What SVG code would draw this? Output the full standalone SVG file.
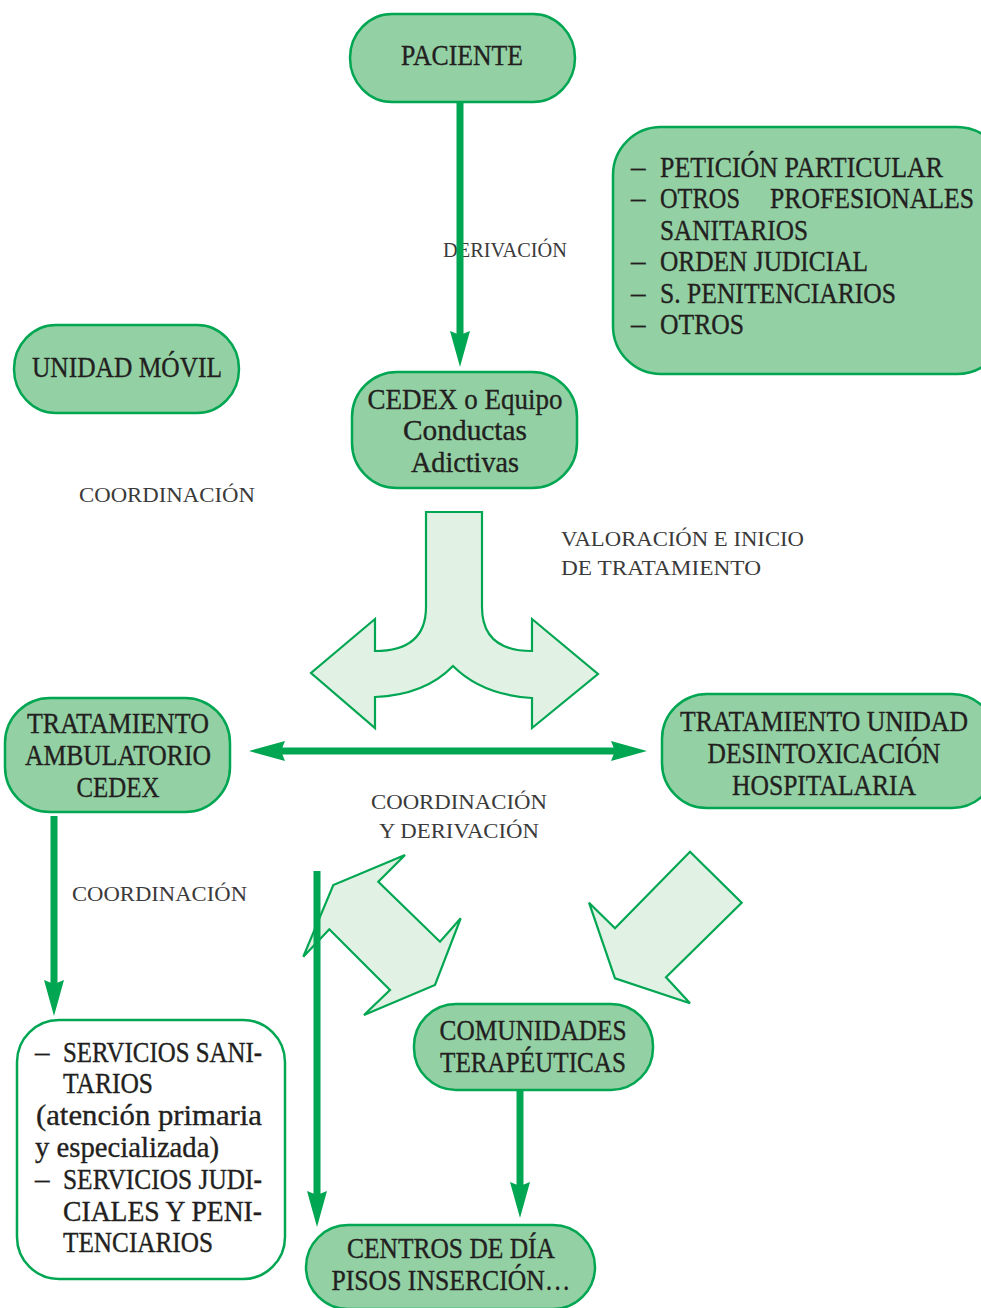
<svg xmlns="http://www.w3.org/2000/svg" width="981" height="1308" viewBox="0 0 981 1308">
<defs>
<style>
.box{fill:#93d1a5;stroke:#00a651;stroke-width:2.5}
.wbox{fill:#ffffff;stroke:#00a651;stroke-width:2.5}
.t{font-family:"Liberation Serif","Times New Roman",serif;font-size:29px;fill:#231f20;stroke:#231f20;stroke-width:0.35}
.c{text-anchor:middle}
.lbl{font-family:"Liberation Serif","Times New Roman",serif;font-size:22px;fill:#3a3a3a}
.ln{stroke:#00a651;stroke-width:7;fill:none}
.big{fill:#e1f2e5;stroke:#00a651;stroke-width:2.2;stroke-linejoin:miter}
</style>
<marker id="ah" markerUnits="userSpaceOnUse" viewBox="0 0 36 20" markerWidth="36" markerHeight="20" refX="4" refY="10" orient="auto-start-reverse">
<path d="M0,0 L36,10 L0,20 L4,10 z" fill="#00a651"/>
</marker>
</defs>
<rect width="981" height="1308" fill="#ffffff"/>

<g id="labels">
<text class="lbl" x="443" y="257" textLength="124" lengthAdjust="spacingAndGlyphs">DERIVACIÓN</text>
<text class="lbl" x="79" y="502" textLength="176" lengthAdjust="spacingAndGlyphs">COORDINACIÓN</text>
<text class="lbl" x="561" y="546" textLength="243" lengthAdjust="spacingAndGlyphs">VALORACIÓN E INICIO</text>
<text class="lbl" x="561" y="575" textLength="200" lengthAdjust="spacingAndGlyphs">DE TRATAMIENTO</text>
<text class="lbl" x="371" y="809" textLength="176" lengthAdjust="spacingAndGlyphs">COORDINACIÓN</text>
<text class="lbl" x="379" y="838" textLength="160" lengthAdjust="spacingAndGlyphs">Y DERIVACIÓN</text>
<text class="lbl" x="72" y="901" textLength="175" lengthAdjust="spacingAndGlyphs">COORDINACIÓN</text>
</g>

<g id="connectors">
<line class="ln" x1="460" y1="102" x2="460" y2="335" marker-end="url(#ah)"/>
<path class="big" d="M426,512 L482,512 L482,607 Q482,651 532,651 L532,619 L598,674 L532,728 L532,698 Q482,695 453,666 Q425,695 375,697 L375,728 L311,673 L375,619 L375,651 Q426,651 426,607 Z"/>
<line class="ln" x1="281" y1="751" x2="615" y2="751" marker-start="url(#ah)" marker-end="url(#ah)"/>
<polygon class="big" points="405,855 378.3,881.7 440,941.7 460.7,918.3 435,985 364,1015 390,990 329.3,929.3 303.3,956.7 333.3,885"/>
<polygon class="big" points="690,851.7 741.7,902.7 666,977.3 690,1003.3 615,978.3 589,902.7 615,928.3"/>
<line class="ln" x1="54" y1="816" x2="54" y2="984" marker-end="url(#ah)"/>
<line class="ln" x1="317" y1="871" x2="317" y2="1195" marker-end="url(#ah)"/>
<line class="ln" x1="520" y1="1090" x2="520" y2="1186" marker-end="url(#ah)"/>
</g>

<g id="paciente">
<rect class="box" x="350" y="14" width="225" height="88" rx="42" ry="44"/>
<text class="t c" x="462" y="65" textLength="122" lengthAdjust="spacingAndGlyphs">PACIENTE</text>
</g>

<g id="origenes">
<rect class="box" x="613" y="127" width="392" height="247" rx="48" ry="48"/>
<g class="t">
<text x="631" y="177">–</text><text x="660" y="177" textLength="283" lengthAdjust="spacingAndGlyphs">PETICIÓN PARTICULAR</text>
<text x="631" y="208">–</text><text x="660" y="208" textLength="80" lengthAdjust="spacingAndGlyphs">OTROS</text><text x="770" y="208" textLength="204" lengthAdjust="spacingAndGlyphs">PROFESIONALES</text>
<text x="660" y="240" textLength="148" lengthAdjust="spacingAndGlyphs">SANITARIOS</text>
<text x="631" y="271">–</text><text x="660" y="271" textLength="208" lengthAdjust="spacingAndGlyphs">ORDEN JUDICIAL</text>
<text x="631" y="303">–</text><text x="660" y="303" textLength="236" lengthAdjust="spacingAndGlyphs">S. PENITENCIARIOS</text>
<text x="631" y="334">–</text><text x="660" y="334" textLength="84" lengthAdjust="spacingAndGlyphs">OTROS</text>
</g>
</g>

<g id="unidad-movil">
<rect class="box" x="14" y="325" width="225" height="88" rx="42" ry="44"/>
<text class="t c" x="127" y="377" textLength="190" lengthAdjust="spacingAndGlyphs">UNIDAD MÓVIL</text>
</g>

<g id="cedex">
<rect class="box" x="352" y="372" width="225" height="116" rx="45" ry="45"/>
<text class="t c" x="465" y="409" textLength="195" lengthAdjust="spacingAndGlyphs">CEDEX o Equipo</text>
<text class="t c" x="465" y="440" textLength="124" lengthAdjust="spacingAndGlyphs">Conductas</text>
<text class="t c" x="465" y="472" textLength="108" lengthAdjust="spacingAndGlyphs">Adictivas</text>
</g>

<g id="ambulatorio">
<rect class="box" x="5" y="698" width="225" height="114" rx="45" ry="45"/>
<text class="t c" x="118" y="733" textLength="182" lengthAdjust="spacingAndGlyphs">TRATAMIENTO</text>
<text class="t c" x="118" y="765" textLength="186" lengthAdjust="spacingAndGlyphs">AMBULATORIO</text>
<text class="t c" x="118" y="797" textLength="83" lengthAdjust="spacingAndGlyphs">CEDEX</text>
</g>

<g id="hospitalaria">
<rect class="box" x="662" y="694" width="335" height="114" rx="45" ry="45"/>
<text class="t c" x="824" y="731" textLength="288" lengthAdjust="spacingAndGlyphs">TRATAMIENTO UNIDAD</text>
<text class="t c" x="824" y="763" textLength="233" lengthAdjust="spacingAndGlyphs">DESINTOXICACIÓN</text>
<text class="t c" x="824" y="795" textLength="184" lengthAdjust="spacingAndGlyphs">HOSPITALARIA</text>
</g>

<g id="servicios">
<rect class="wbox" x="17" y="1020" width="268" height="259" rx="42" ry="42"/>
<g class="t">
<text x="35" y="1062">–</text><text x="63" y="1062" textLength="199" lengthAdjust="spacingAndGlyphs">SERVICIOS SANI-</text>
<text x="63" y="1093" textLength="90" lengthAdjust="spacingAndGlyphs">TARIOS</text>
<text x="36" y="1125" textLength="226" lengthAdjust="spacingAndGlyphs">(atención primaria</text>
<text x="35" y="1157" textLength="184" lengthAdjust="spacingAndGlyphs">y especializada)</text>
<text x="35" y="1189">–</text><text x="63" y="1189" textLength="199" lengthAdjust="spacingAndGlyphs">SERVICIOS JUDI-</text>
<text x="63" y="1221" textLength="199" lengthAdjust="spacingAndGlyphs">CIALES Y PENI-</text>
<text x="63" y="1252" textLength="150" lengthAdjust="spacingAndGlyphs">TENCIARIOS</text>
</g>
</g>

<g id="comunidades">
<rect class="box" x="414" y="1004" width="239" height="86" rx="42" ry="42"/>
<text class="t c" x="533" y="1040" textLength="187" lengthAdjust="spacingAndGlyphs">COMUNIDADES</text>
<text class="t c" x="533" y="1072" textLength="186" lengthAdjust="spacingAndGlyphs">TERAPÉUTICAS</text>
</g>

<g id="centros">
<rect class="box" x="306" y="1225" width="289" height="84" rx="42" ry="42"/>
<text class="t c" x="451" y="1258" textLength="208" lengthAdjust="spacingAndGlyphs">CENTROS DE DÍA</text>
<text class="t c" x="451" y="1290" textLength="239" lengthAdjust="spacingAndGlyphs">PISOS INSERCIÓN…</text>
</g>
</svg>
